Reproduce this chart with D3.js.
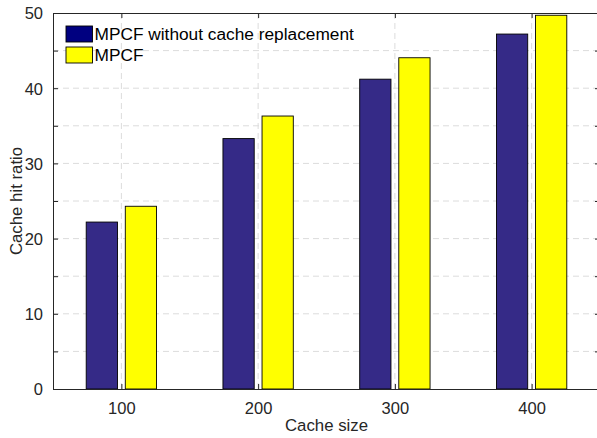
<!DOCTYPE html>
<html>
<head>
<meta charset="utf-8">
<script src="https://cdn.jsdelivr.net/npm/d3@7"></script>
<style>
  html, body { margin: 0; padding: 0; background: #fff; }
  svg { display: block; font-family: "Liberation Sans", Arial, Helvetica, sans-serif; }
</style>
</head>
<body>
<svg id="chart" width="597" height="438"></svg>
<script>
const categories = [100, 200, 300, 400];
const seriesNames = ["MPCF without cache replacement", "MPCF"];
const withoutReplacement = [22.2, 33.3, 41.2, 47.2];
const mpcf = [24.3, 36.3, 44.05, 49.7];
const yTicks = [0, 5, 10, 15, 20, 25, 30, 35, 40, 45, 50];
const yTickLabels = [0, 10, 20, 30, 40, 50];
const xLabel = "Cache size";
const yLabel = "Cache hit ratio";

const barColors = ["#352a87", "#ffff00"];
const legendColors = ["#000080", "#ffff00"];
const series = [withoutReplacement, mpcf];

const svg = d3.select("#chart");
const margin = { left: 53, right: 600, top: 13, bottom: 389 };
const axisColor = "#262626";

const x = d3.scaleLinear().domain([50, 450]).range([margin.left, margin.right]);
const y = d3.scaleLinear().domain([0, 50]).range([margin.bottom, margin.top]);

// grid
const grid = svg.append("g");
grid.selectAll("line.hg").data(yTicks.filter(v => v > 0 && v < 50)).enter().append("line")
  .attr("x1", margin.left).attr("x2", margin.right)
  .attr("y1", d => y(d)).attr("y2", d => y(d))
  .attr("stroke", "#dcdcdc").attr("stroke-width", 1).attr("stroke-dasharray", "6,4");
grid.selectAll("line.vg").data(categories).enter().append("line")
  .attr("x1", d => x(d)).attr("x2", d => x(d))
  .attr("y1", margin.top).attr("y2", margin.bottom)
  .attr("stroke", "#dcdcdc").attr("stroke-width", 1).attr("stroke-dasharray", "6,4");

// bars
const offset = 14.29;   // in data units (grouped bar offsets)
const bw = 22.86;       // bar width in data units
series.forEach((vals, si) => {
  const dx = si === 0 ? -offset : offset;
  svg.append("g").selectAll("rect").data(categories).enter().append("rect")
    .attr("x", (d) => x(d + dx - bw / 2))
    .attr("width", x(bw) - x(0))
    .attr("y", (d, i) => y(vals[i]))
    .attr("height", (d, i) => y(0) - y(vals[i]))
    .attr("fill", barColors[si])
    .attr("stroke", "#000").attr("stroke-width", 0.9);
});

// axes
const yAxisL = d3.axisLeft(y).tickValues(yTicks).tickSizeInner(-5).tickSizeOuter(0)
  .tickFormat(d => yTickLabels.includes(d) ? d : "").tickPadding(10);
const gyl = svg.append("g").attr("transform", `translate(${margin.left},0)`).call(yAxisL);
const yAxisR = d3.axisRight(y).tickValues(yTicks).tickSizeInner(-5).tickSizeOuter(0).tickFormat("");
const gyr = svg.append("g").attr("transform", `translate(${margin.right},0)`).call(yAxisR);
const xAxisB = d3.axisBottom(x).tickValues(categories).tickSizeInner(-5).tickSizeOuter(0).tickPadding(13);
const gxb = svg.append("g").attr("transform", `translate(0,${margin.bottom})`).call(xAxisB);
const xAxisT = d3.axisTop(x).tickValues(categories).tickSizeInner(-5).tickSizeOuter(0).tickFormat("");
const gxt = svg.append("g").attr("transform", `translate(0,${margin.top})`).call(xAxisT);

[gyl, gyr, gxb, gxt].forEach(g => {
  g.select(".domain").attr("stroke", axisColor).attr("stroke-width", 1);
  g.selectAll(".tick line").attr("stroke", axisColor).attr("stroke-width", 1);
  g.selectAll(".tick text").attr("fill", axisColor).style("font-size", "16.5px")
    .style("font-family", '"Liberation Sans", Arial, Helvetica, sans-serif');
});
gyl.selectAll(".tick text").attr("dy", "0.36em");

// labels
svg.append("text").attr("x", (margin.left + margin.right) / 2).attr("y", 431)
  .attr("text-anchor", "middle").attr("fill", axisColor).style("font-size", "16.8px").text(xLabel);
svg.append("text").attr("transform", `translate(22,${(margin.top + margin.bottom) / 2}) rotate(-90)`)
  .attr("text-anchor", "middle").attr("fill", axisColor).style("font-size", "16.8px").text(yLabel);

// legend
const leg = svg.append("g");
seriesNames.forEach((name, i) => {
  const yy = 26 + i * 21;
  leg.append("rect").attr("x", 66).attr("y", yy).attr("width", 26.5).attr("height", 16)
    .attr("fill", legendColors[i]).attr("stroke", "#000").attr("stroke-width", 0.9);
  leg.append("text").attr("x", 94.5).attr("y", yy + 14).attr("fill", "#000")
    .style("font-size", "17.3px").text(name);
});
</script>
</body>
</html>
